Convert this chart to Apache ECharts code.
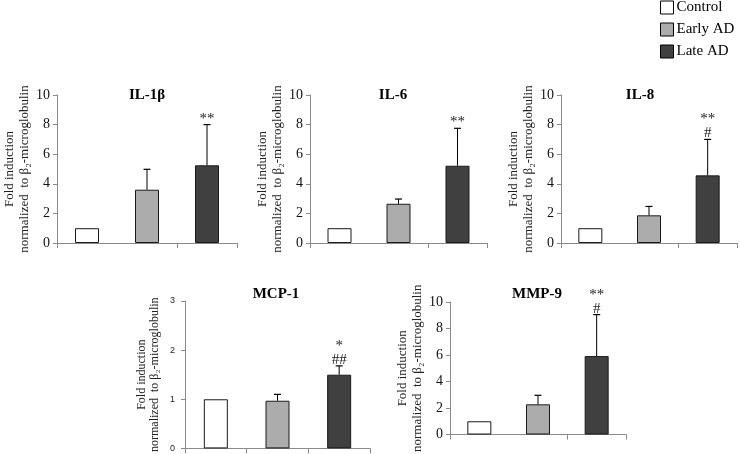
<!DOCTYPE html>
<html>
<head>
<meta charset="utf-8">
<script src="https://cdn.jsdelivr.net/npm/echarts@6/dist/echarts.min.js"></script>
<style>
html,body{margin:0;padding:0;background:#fff;}
#chart{width:740px;height:454px;}
</style>
</head>
<body>
<div id="chart"></div>
<script>
// ---- data ----
const groups = ['Control', 'Early AD', 'Late AD'];
const panelNames = ['IL-1β', 'IL-6', 'IL-8', 'MCP-1', 'MMP-9'];
const il1bMean = [1.0, 3.6, 5.25];
const il1bSD   = [0, 1.38, 2.75];
const il1bSig  = ['', '', '**'];
const il6Mean  = [1.0, 2.65, 5.22];
const il6SD    = [0, 0.32, 2.53];
const il6Sig   = ['', '', '**'];
const il8Mean  = [1.0, 1.87, 4.57];
const il8SD    = [0, 0.6, 2.43];
const il8Sig   = ['', '', '**\n#'];
const mcp1Mean = [1.0, 0.97, 1.5];
const mcp1SD   = [0, 0.13, 0.18];
const mcp1Sig  = ['', '', '*\n##'];
const mmp9Mean = [1.0, 2.28, 5.92];
const mmp9SD   = [0, 0.68, 3.13];
const mmp9Sig  = ['', '', '**\n#'];
const yMax      = [10, 10, 10, 3, 10];
const yInterval = [2, 2, 2, 1, 2];

const means = [il1bMean, il6Mean, il8Mean, mcp1Mean, mmp9Mean];
const sds   = [il1bSD, il6SD, il8SD, mcp1SD, mmp9SD];
const sigs  = [il1bSig, il6Sig, il8Sig, mcp1Sig, mmp9Sig];

// ---- layout / style ----
const fills = ['#ffffff', '#acacac', '#404040'];
const gridsPx = [
  {left: 57,  top: 95,  width: 180, height: 148},
  {left: 310, top: 95,  width: 177, height: 148},
  {left: 561, top: 95,  width: 176, height: 148},
  {left: 185, top: 301, width: 185, height: 149},
  {left: 450, top: 302, width: 176, height: 147}
];
const titlePos = [[147, 88], [393, 88], [640, 88], [276, 287], [537, 287]];
const serif = '"Liberation Serif", "Times New Roman", serif';
const axisGray = '#8a8a8a';
const yName = 'Fold induction\nnormalized  to β₂-microglobulin';

const option = {
  animation: false,
  backgroundColor: '#fff',
  title: panelNames.map((n, i) => ({
    text: n,
    left: titlePos[i][0],
    top: titlePos[i][1],
    textAlign: 'center',
    padding: 0,
    textStyle: {fontFamily: serif, fontWeight: 'bold', fontSize: 15, color: '#000'}
  })),
  legend: {
    orient: 'vertical',
    left: 660, top: 0, padding: 0,
    itemWidth: 13, itemHeight: 13, itemGap: 7,
    icon: 'rect',
    data: groups,
    textStyle: {fontFamily: serif, fontSize: 15, color: '#000', padding: [0, 0, 0, -2]},
    itemStyle: {borderColor: '#000', borderWidth: 1}
  },
  grid: gridsPx.map(g => Object.assign({containLabel: false}, g)),
  xAxis: panelNames.map((n, i) => ({
    type: 'category', gridIndex: i, data: groups,
    axisLine: {lineStyle: {color: axisGray, width: 1}},
    axisTick: {show: true, alignWithLabel: false, length: 5, lineStyle: {color: axisGray}},
    axisLabel: {show: false},
    splitLine: {show: false}
  })),
  yAxis: panelNames.map((n, i) => {
    const small = i === 3;
    return {
      type: 'value', gridIndex: i, min: 0, max: yMax[i], interval: yInterval[i],
      axisLine: {show: true, lineStyle: {color: axisGray, width: 1}},
      axisTick: {show: true, length: 4, lineStyle: {color: axisGray}},
      splitLine: {show: false},
      axisLabel: small
        ? {fontFamily: '"Liberation Sans", sans-serif', fontSize: 9, color: '#222', margin: 10}
        : {fontFamily: serif, fontSize: 14, color: '#111', margin: 7},
      name: yName,
      nameLocation: 'middle',
      nameRotate: 90,
      nameGap: small ? 24 : 25,
      nameTextStyle: {fontFamily: serif, fontSize: small ? 12 : 13, color: '#222', lineHeight: small ? 13 : 15}
    };
  }),
  series: []
};

panelNames.forEach((n, i) => {
  groups.forEach((gname, k) => {
    option.series.push({
      type: 'bar', name: gname, xAxisIndex: i, yAxisIndex: i,
      barWidth: 24, barGap: '-100%',
      itemStyle: {color: fills[k], borderColor: '#1a1a1a', borderWidth: 1},
      data: means[i].map((v, j) => (j === k ? v : null)),
      z: 2
    });
  });
  const sig = sigs[i];
  option.series.push({
    type: 'custom', xAxisIndex: i, yAxisIndex: i, z: 5,
    data: means[i].map((v, j) => [j, v, sds[i][j]]),
    renderItem: function (params, api) {
      const x = api.value(0), m = api.value(1), s = api.value(2);
      const children = [];
      const pTop = api.coord([x, m + s]);
      const pBar = api.coord([x, m]);
      if (s > 0) {
        children.push({type: 'line', shape: {x1: pBar[0], y1: pBar[1], x2: pTop[0], y2: pTop[1]},
          style: {stroke: '#000', lineWidth: 1}});
        children.push({type: 'line', shape: {x1: pTop[0] - 3.5, y1: pTop[1], x2: pTop[0] + 3.5, y2: pTop[1]},
          style: {stroke: '#000', lineWidth: 1.2}});
      }
      const t = sig[params.dataIndex];
      if (t) {
        children.push({type: 'text', x: pTop[0], y: pTop[1] + 1,
          style: {text: t, fontFamily: serif, fontSize: 15, fill: '#222', align: 'center',
                  verticalAlign: 'bottom', lineHeight: 14}});
      }
      return {type: 'group', children: children};
    }
  });
});

const chart = echarts.init(document.getElementById('chart'), null, {renderer: 'canvas'});
chart.setOption(option);
</script>
</body>
</html>
